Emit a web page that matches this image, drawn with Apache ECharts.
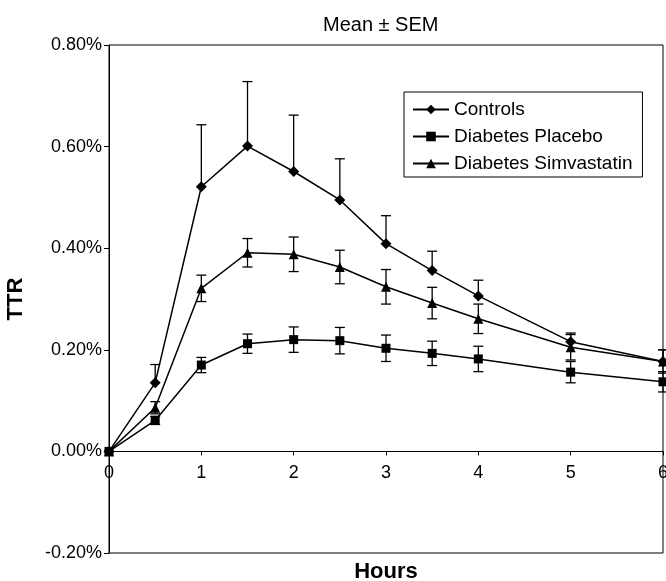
<!DOCTYPE html>
<html>
<head>
<meta charset="utf-8">
<script src="https://cdn.jsdelivr.net/npm/echarts@6/dist/echarts.min.js"></script>
<style>html,body{margin:0;padding:0;background:#fff}#c{width:666px;height:581px}</style>
</head>
<body>
<div id="c"></div>
<script>
const hours = [0, 0.5, 1, 1.5, 2, 2.5, 3, 3.5, 4, 5, 6];
const controls = [0, 0.135, 0.521, 0.601, 0.551, 0.495, 0.409, 0.356, 0.306, 0.216, 0.177];
const controlsSem = [0, 0.036, 0.122, 0.127, 0.111, 0.081, 0.055, 0.038, 0.031, 0.017, 0.023];
const placebo = [0, 0.061, 0.170, 0.212, 0.220, 0.218, 0.203, 0.193, 0.182, 0.156, 0.137];
const placeboSem = [0, 0.008, 0.015, 0.019, 0.025, 0.026, 0.026, 0.024, 0.025, 0.021, 0.020];
const simva = [0, 0.086, 0.321, 0.391, 0.388, 0.363, 0.324, 0.292, 0.261, 0.205, 0.177];
const simvaSem = [0, 0.012, 0.026, 0.028, 0.034, 0.033, 0.034, 0.031, 0.029, 0.025, 0.023];
const seriesNames = ['Controls', 'Diabetes Placebo', 'Diabetes Simvastatin'];
const xTicks = [0, 1, 2, 3, 4, 5, 6];

const FONT = '"Liberation Sans", Arial, sans-serif';
const GRID = { left: 109, right: 3, top: 45, bottom: 28 };

function pts(vals) { return hours.map((h, i) => [h, vals[i]]); }
function errData(vals, sem, upperOnly) {
  return hours.map((h, i) => [h, upperOnly ? vals[i] : vals[i] - sem[i], vals[i] + sem[i]]);
}
function errRender(upperOnly) {
  return function (params, api) {
    const x = api.value(0);
    const lo = api.coord([x, api.value(1)]);
    const hi = api.coord([x, api.value(2)]);
    const w = 5;
    const st = { stroke: '#000', lineWidth: 1.3 };
    const children = [
      { type: 'line', shape: { x1: lo[0], y1: lo[1], x2: hi[0], y2: hi[1] }, style: st },
      { type: 'line', shape: { x1: hi[0] - w, y1: hi[1], x2: hi[0] + w, y2: hi[1] }, style: st }
    ];
    if (!upperOnly) children.push({ type: 'line', shape: { x1: lo[0] - w, y1: lo[1], x2: lo[0] + w, y2: lo[1] }, style: st });
    return { type: 'group', children: children };
  };
}

const chart = echarts.init(document.getElementById('c'), null, { renderer: 'canvas' });
const lineStyle = { color: '#000', width: 1.5 };
chart.setOption({
  animation: false,
  backgroundColor: '#fff',
  title: {
    text: 'Mean ± SEM', left: 318, top: 10,
    textStyle: { fontFamily: FONT, fontSize: 20, fontWeight: 'normal', color: '#000' }
  },
  grid: { left: GRID.left, right: GRID.right, top: GRID.top, bottom: GRID.bottom,
    show: true, borderColor: '#000', borderWidth: 1,
    containLabel: false, outerBoundsMode: 'none' },
  legend: {
    orient: 'vertical', left: 404, top: 92, width: 239,
    data: seriesNames,
    borderColor: '#000', borderWidth: 1, padding: [8, 10, 4, 8], itemGap: 8,
    itemWidth: 36, itemHeight: 12,
    textStyle: { fontFamily: FONT, fontSize: 19, color: '#000' }
  },
  xAxis: {
    type: 'value', min: 0, max: 6, interval: 1,
    axisLine: { onZero: false, lineStyle: { color: '#000', width: 1 } },
    axisTick: { show: true, length: 4, lineStyle: { color: '#000' } },
    splitLine: { show: false },
    axisLabel: { fontFamily: FONT, fontSize: 18, color: '#000', margin: 13,
      formatter: v => xTicks.includes(v) ? String(v) : '' },
    name: 'Hours', nameLocation: 'middle', nameGap: 110,
    nameTextStyle: { fontFamily: FONT, fontSize: 22, fontWeight: 'bold', color: '#000' }
  },
  yAxis: {
    type: 'value', min: -0.2, max: 0.8, interval: 0.2,
    axisLine: { show: true, lineStyle: { color: '#000', width: 1 } },
    axisTick: { show: true, length: 5, lineStyle: { color: '#000' } },
    splitLine: { show: false },
    axisLabel: { fontFamily: FONT, fontSize: 18, color: '#000', margin: 7,
      formatter: v => v.toFixed(2) + '%' },
    name: 'TTR', nameLocation: 'middle', nameGap: 82,
    nameTextStyle: { fontFamily: FONT, fontSize: 22, fontWeight: 'bold', color: '#000' }
  },
  series: [
    { type: 'custom', renderItem: errRender(true), data: errData(controls, controlsSem, true), z: 1, silent: true },
    { type: 'custom', renderItem: errRender(false), data: errData(placebo, placeboSem, false), z: 1, silent: true },
    { type: 'custom', renderItem: errRender(false), data: errData(simva, simvaSem, false), z: 1, silent: true },
    { name: seriesNames[0], type: 'line', data: pts(controls), symbol: 'diamond', symbolSize: 11,
      itemStyle: { color: '#000' }, lineStyle: lineStyle, z: 3 },
    { name: seriesNames[1], type: 'line', data: pts(placebo), symbol: 'rect', symbolSize: 9,
      itemStyle: { color: '#000' }, lineStyle: lineStyle, z: 3 },
    { name: seriesNames[2], type: 'line', data: pts(simva), symbol: 'triangle', symbolSize: 10,
      itemStyle: { color: '#000' }, lineStyle: lineStyle, z: 3 }
  ]
});
// Move the x axis (line, ticks, labels) onto the zero line of the y axis.
const zeroY = chart.convertToPixel({ yAxisIndex: 0 }, 0);
const bottomY = chart.getHeight() - GRID.bottom;
chart.setOption({ xAxis: { offset: zeroY - bottomY } });
</script>
</body>
</html>
